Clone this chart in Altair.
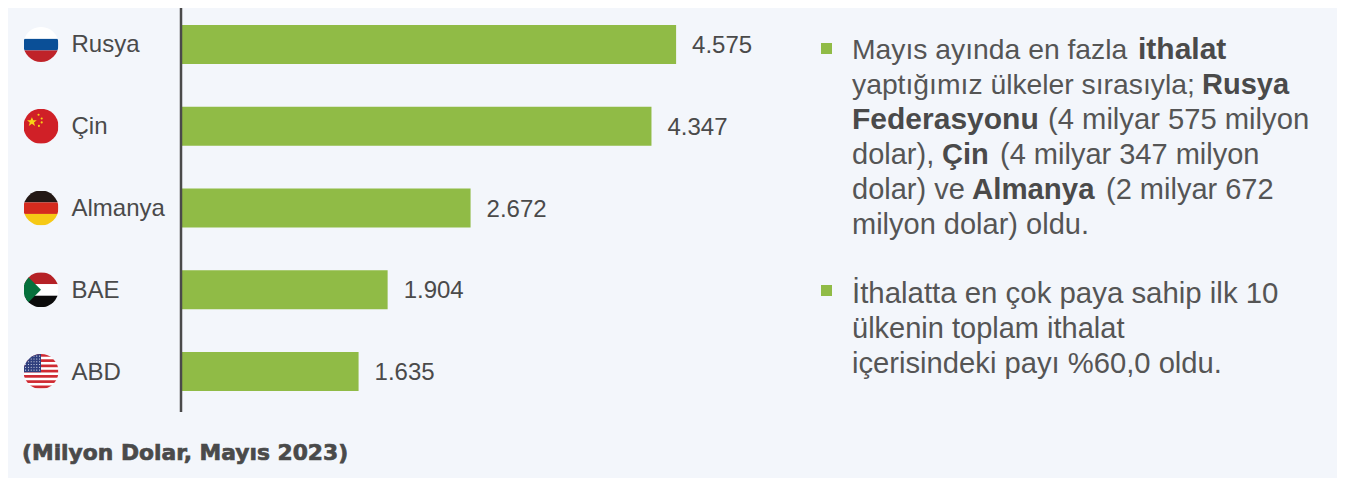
import urllib.parse
import altair as alt
import pandas as pd

# --- data ---
countries = ["Rusya", "Çin", "Almanya", "BAE", "ABD"]
values = [4575, 4347, 2672, 1904, 1635]
value_labels = ["4.575", "4.347", "2.672", "1.904", "1.635"]
unit_note = "(Milyon Dolar, Mayıs 2023)"

# --- palette ---
BG = "#f3f6fb"
GREEN = "#90bb46"
INK = "#4a4a4a"
INK_LIGHT = "#555555"
FONT = "Liberation Sans"


def star(cx, cy, r):
    return f'<circle cx="{cx}" cy="{cy}" r="{r}" fill="#f7d417"/>'


usa_stripes = "".join(
    f'<rect y="{y}" width="100" height="7.7" fill="#cf2a32"/>' for y in range(0, 100, 15)
)
usa_stars = "".join(
    f'<circle cx="{x}" cy="{y}" r="1.5" fill="#fff"/>'
    for y in range(6, 48, 8) for x in range(6, 50, 8)
)
flag_bodies = {
    "Rusya": '<rect width="100" height="100" fill="#fff"/>'
             '<rect y="34" width="100" height="33" fill="#0a4f97"/>'
             '<rect y="67" width="100" height="33" fill="#bf2329"/>',
    "Çin": '<rect width="100" height="100" fill="#d02027"/>'
           '<polygon points="24,24 28,33 38,33 30,39 33,49 24,43 15,49 18,39 10,33 20,33" fill="#f7d417"/>'
           + star(43, 17, 3) + star(52, 28, 3) + star(52, 39, 3) + star(44, 49, 3),
    "Almanya": '<rect width="100" height="34" fill="#231815"/>'
               '<rect y="34" width="100" height="33" fill="#d52b1e"/>'
               '<rect y="67" width="100" height="33" fill="#f6c915"/>',
    "BAE": '<rect width="100" height="34" fill="#b52126"/>'
           '<rect y="34" width="100" height="33" fill="#fff"/>'
           '<rect y="67" width="100" height="33" fill="#0b0b0b"/>'
           '<polygon points="0,0 50,50 0,100" fill="#05703c"/>'
           '<polygon points="0,0 14,14 0,14" fill="#05703c"/>',
    "ABD": '<rect width="100" height="100" fill="#fff"/>' + usa_stripes
           + '<rect width="50" height="52" fill="#2f3f7e"/>' + usa_stars,
}


def flag_uri(body):
    svg = (
        '<svg xmlns="http://www.w3.org/2000/svg" width="105" height="105" viewBox="0 0 100 100">'
        '<clipPath id="c"><circle cx="50" cy="50" r="50"/></clipPath>'
        f'<g clip-path="url(#c)">{body}</g></svg>'
    )
    return "data:image/svg+xml," + urllib.parse.quote(svg)


data = pd.DataFrame({
    "country": countries,
    "value": values,
    "label": value_labels,
    "flag": [flag_uri(flag_bodies[c]) for c in countries],
})

x_scale = alt.Scale(domain=[0, 5000], range=[174, 714])
y_scale = alt.Scale(domain=countries, range=[-4.4, 404.4], paddingInner=0.523, paddingOuter=0.2615)
X = alt.X("value:Q", scale=x_scale, axis=None)
Y = alt.Y("country:N", scale=y_scale, axis=None, sort=countries)

bars = alt.Chart(data).mark_bar(color=GREEN, cornerRadius=0).encode(x=X, y=Y)
flags = alt.Chart(data).mark_image(width=35, height=35).encode(x=alt.value(33), y=Y, url="flag:N")
names = alt.Chart(data).mark_text(
    align="left", baseline="middle", font=FONT, fontSize=24, color=INK, dy=1
).encode(x=alt.value(63.5), y=Y, text="country:N")
numbers = alt.Chart(data).mark_text(
    align="left", baseline="middle", font=FONT, fontSize=24, color=INK, dx=16, dy=1.5
).encode(x=X, y=Y, text="label:N")

axis_line = alt.Chart(data.head(1)).mark_rule(color="#4a4a4a", strokeWidth=2.5).encode(
    x=alt.value(173), y=alt.value(-5), y2=alt.value(404)
)

# --- commentary block: (text, left px on page, baseline px on page, font size) ---
regular_runs = [
    ("Mayıs ayında en fazla", 852, 59, 28.3),
    ("yaptığımız ülkeler sırasıyla;", 852, 94, 28.3),
    ("(4 milyar 575 milyon", 1048, 129, 29.2),
    ("dolar),", 852, 164, 29),
    ("(4 milyar 347 milyon", 1000, 164, 29),
    ("dolar) ve", 852, 199, 29),
    ("(2 milyar 672", 1106, 199, 29),
    ("milyon dolar) oldu.", 852, 234, 29),
    ("İthalatta en çok paya sahip ilk 10", 852, 303, 29.4),
    ("ülkenin toplam ithalat", 852, 338, 29),
    ("içerisindeki payı %60,0 oldu.", 852, 373, 29.2),
]
bold_runs = [
    ("ithalat", 1138, 59, 30),
    ("Rusya", 1202, 94, 29),
    ("Federasyonu", 852, 129, 30),
    ("Çin", 942, 164, 29),
    ("Almanya", 972, 199, 29.4),
]


def runs_frame(runs):
    df = pd.DataFrame(runs, columns=["text", "px", "py", "fs"])
    df["px"] -= 8
    df["py"] -= 8
    return df


PX = alt.X("px:Q", scale=None, axis=None)
PY = alt.Y("py:Q", scale=None, axis=None)
FS = alt.Size("fs:Q", scale=None, legend=None)

regular = alt.Chart(runs_frame(regular_runs)).mark_text(
    align="left", baseline="alphabetic", font=FONT, color=INK_LIGHT
).encode(x=PX, y=PY, size=FS, text="text:N")
bold = alt.Chart(runs_frame(bold_runs)).mark_text(
    align="left", baseline="alphabetic", font=FONT, fontWeight="bold", color=INK
).encode(x=PX, y=PY, size=FS, text="text:N")

bullets_df = pd.DataFrame({"px": [818.5, 818.5], "py": [40.5, 282.5]})
bullets = alt.Chart(bullets_df).mark_square(size=121, color=GREEN, opacity=1).encode(x=PX, y=PY)

note_df = pd.DataFrame({"text": [unit_note], "px": [14], "py": [452]})
note = alt.Chart(note_df).mark_text(
    align="left", baseline="alphabetic", font="DejaVu Sans", fontSize=21.8, fontWeight="bold",
    color=INK, stroke=INK, strokeWidth=0.7
).encode(x=PX, y=PY, text="text:N")

chart = alt.layer(
    bars, axis_line, flags, names, numbers, regular, bold, bullets, note
).resolve_scale(x="independent", y="independent", size="independent").properties(
    width=1329,
    height=470,
    padding=0,
    autosize=alt.AutoSizeParams(type="none"),
    background=BG,
).configure_view(stroke=None)

chart.save("out.html", embed_options={"renderer": "svg", "actions": False})
